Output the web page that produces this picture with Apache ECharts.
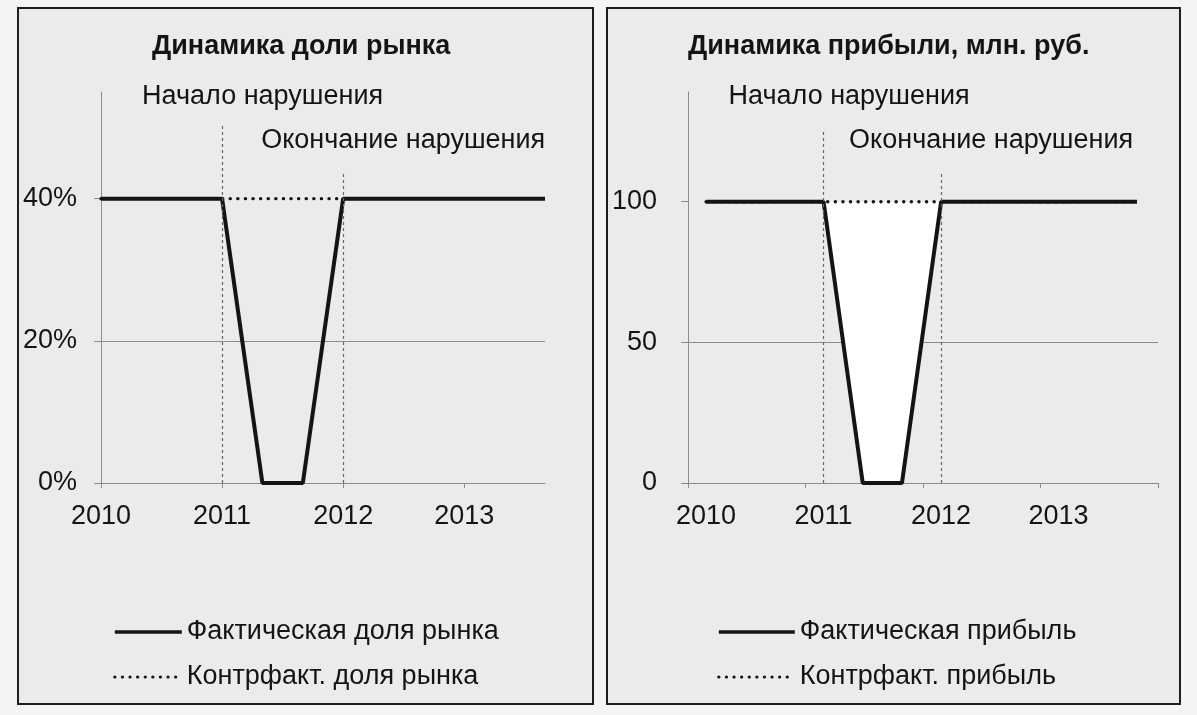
<!DOCTYPE html>
<html><head><meta charset="utf-8">
<script src="https://cdn.jsdelivr.net/npm/echarts@6/dist/echarts.min.js"></script>
<style>html,body{margin:0;padding:0;background:#f4f4f4}#c{width:1197px;height:715px}</style>
</head><body><div id="c"></div>
<script>
// ---- data ----
const years = [2010, 2010.333, 2010.667, 2011, 2011.333, 2011.667, 2012, 2012.333, 2012.667, 2013, 2013.333, 2013.667];
const shareActual  = [40, 40, 40, 40, 0, 0, 40, 40, 40, 40, 40, 40];   // %
const shareCounter = [40, 40, 40, 40, 40, 40, 40, 40, 40, 40, 40, 40]; // %
const profitActual  = [100, 100, 100, 100, 0, 0, 100, 100, 100, 100, 100, 100];
const profitCounter = [100, 100, 100, 100, 100, 100, 100, 100, 100, 100, 100, 100];
const yearLabels = [2010, 2011, 2012, 2013];
const shareTicks = [0, 20, 40];
const profitTicks = [0, 50, 100];
const eventYears = [2011, 2012];
const eventLabels = ['Начало нарушения', 'Окончание нарушения'];
const titles = ['Динамика доли рынка', 'Динамика прибыли, млн. руб.'];
const names = {
  shareA: 'Фактическая доля рынка', shareC: 'Контрфакт. доля рынка',
  profitA: 'Фактическая прибыль', profitC: 'Контрфакт. прибыль'
};

// ---- styling ----
const FONT = '"Liberation Sans", Arial, sans-serif';
const INK = '#141414';
const GRID_C = '#8c8c8c';
const FS = 27;

const pair = (xs, ys) => xs.map((x, i) => [x, ys[i]]);
const solid = { color: INK, width: 4, type: 'solid' };
const dotted = { color: INK, width: 3.4, type: [0.1, 7.5], cap: 'round' };
const eventLine = { color: '#666', width: 1.2, type: [3, 3] };

const rMin = 2009.846, rMax = 2013.846;
const rTicks = [0, 1, 2, 3, 4].map(k => +(rMin + k).toFixed(3));

function yAxis(gi, max, ticks, fmt, margin) {
  return {
    type: 'value', gridIndex: gi, min: 0, max: max,
    axisLine: { show: true, lineStyle: { color: GRID_C, width: 1 } },
    axisTick: { show: true, length: 7, customValues: ticks, lineStyle: { color: GRID_C } },
    axisLabel: { customValues: ticks, formatter: fmt, color: INK, fontSize: FS, fontFamily: FONT, margin: margin },
    splitLine: { show: true, showMaxLine: false, lineStyle: { color: GRID_C, width: 1 } }
  };
}
function xAxis(gi, min, max, ticks) {
  return {
    type: 'value', gridIndex: gi, min: min, max: max,
    axisLine: { show: true, onZero: false, lineStyle: { color: GRID_C, width: 1 } },
    axisTick: { show: true, length: 5, customValues: ticks, lineStyle: { color: GRID_C } },
    axisLabel: { customValues: yearLabels, formatter: v => String(Math.round(v)), color: INK, fontSize: FS, fontFamily: FONT, margin: 20 },
    splitLine: { show: false }
  };
}
function events(tops) {
  return {
    silent: true, symbol: ['none', 'none'], label: { show: false },
    lineStyle: eventLine,
    data: eventYears.map((y, i) => [{ coord: [y, 0] }, { coord: [y, tops[i]] }])
  };
}
function legend(left, iw, nA, nC) {
  return {
    orient: 'vertical', left: left, top: 617, padding: 0, itemWidth: iw, itemHeight: 14, itemGap: 15,
    selectedMode: false,
    itemStyle: { opacity: 0 },
    data: [
      { name: nA, lineStyle: { color: INK, width: 3.6, type: 'solid' } },
      { name: nC, lineStyle: { color: INK, width: 3.2, type: [0.1, 7.5], cap: 'round' } }
    ],
    textStyle: { fontSize: FS, color: INK, fontFamily: FONT, lineHeight: 30 }
  };
}

const chart = echarts.init(document.getElementById('c'), null, { renderer: 'canvas' });
const option = {
  animation: false,
  backgroundColor: '#f4f4f4',
  graphic: [
    { type: 'rect', z: -10, shape: { x: 18, y: 8, width: 575, height: 696 }, style: { fill: '#ebebeb', stroke: '#1e1e1e', lineWidth: 2 } },
    { type: 'rect', z: -10, shape: { x: 607, y: 8, width: 573, height: 696 }, style: { fill: '#ebebeb', stroke: '#1e1e1e', lineWidth: 2 } }
  ],
  title: [
    { text: titles[0], left: 147, top: 28, textStyle: { fontSize: FS, fontWeight: 'bold', color: INK, fontFamily: FONT } },
    { text: titles[1], left: 683, top: 28, textStyle: { fontSize: FS, fontWeight: 'bold', color: INK, fontFamily: FONT } }
  ],
  legend: [
    legend(113, 67, names.shareA, names.shareC),
    legend(717, 76, names.profitA, names.profitC)
  ],
  grid: [
    { left: 101, right: 1197 - 545, top: 92, bottom: 715 - 483 },
    { left: 688, right: 1197 - 1158, top: 92, bottom: 715 - 483 }
  ],
  xAxis: [
    xAxis(0, 2010, 2013.667, yearLabels),
    xAxis(1, rMin, rMax, rTicks)
  ],
  yAxis: [
    yAxis(0, 55, shareTicks, v => v + '%', 24),
    yAxis(1, 139, profitTicks, v => String(v), 31)
  ],
  series: [
    { name: names.shareC, type: 'line', xAxisIndex: 0, yAxisIndex: 0, z: 3, symbol: 'none',
      data: pair(years, shareCounter), lineStyle: dotted, itemStyle: { color: INK },
      markLine: events([50.2, 43.9]) },
    { name: names.shareA, type: 'line', xAxisIndex: 0, yAxisIndex: 0, z: 4, symbol: 'none',
      data: pair(years, shareActual), lineStyle: solid, itemStyle: { color: INK } },

    // white region between counterfactual and actual profit
    { name: 'gap', type: 'custom', xAxisIndex: 1, yAxisIndex: 1, z: 1, silent: true,
      data: [[years[0], profitActual[0]]],
      renderItem: (params, api) => {
        const top = years.map((x, i) => api.coord([x, profitCounter[i]]));
        const bot = years.map((x, i) => api.coord([x, profitActual[i]])).reverse();
        return { type: 'polygon', shape: { points: top.concat(bot) }, style: { fill: '#ffffff' } };
      } },
    { name: names.profitA, type: 'line', xAxisIndex: 1, yAxisIndex: 1, z: 4, symbol: 'none',
      data: pair(years, profitActual), lineStyle: solid, itemStyle: { color: INK } },
    { name: names.profitC, type: 'line', xAxisIndex: 1, yAxisIndex: 1, z: 3, symbol: 'none',
      data: pair(years, profitCounter), lineStyle: dotted, itemStyle: { color: INK },
      markLine: events([125, 110]) }
  ]
};
chart.setOption(option);

// annotation texts anchored to the event lines
const annY = [97, 141];
const annOff = [[-80, -82], [-95, -92]];
const texts = [];
[0, 1].forEach(gi => {
  eventYears.forEach((y, i) => {
    const px = chart.convertToPixel({ gridIndex: gi }, [y, 0]);
    texts.push({ type: 'text', z: 5, x: px[0] + annOff[gi][i], y: annY[i],
      style: { text: eventLabels[i], fill: INK, font: FS + 'px ' + FONT, verticalAlign: 'middle', align: 'left' } });
  });
});
chart.setOption({ graphic: option.graphic.concat(texts) });
</script>
</body></html>
